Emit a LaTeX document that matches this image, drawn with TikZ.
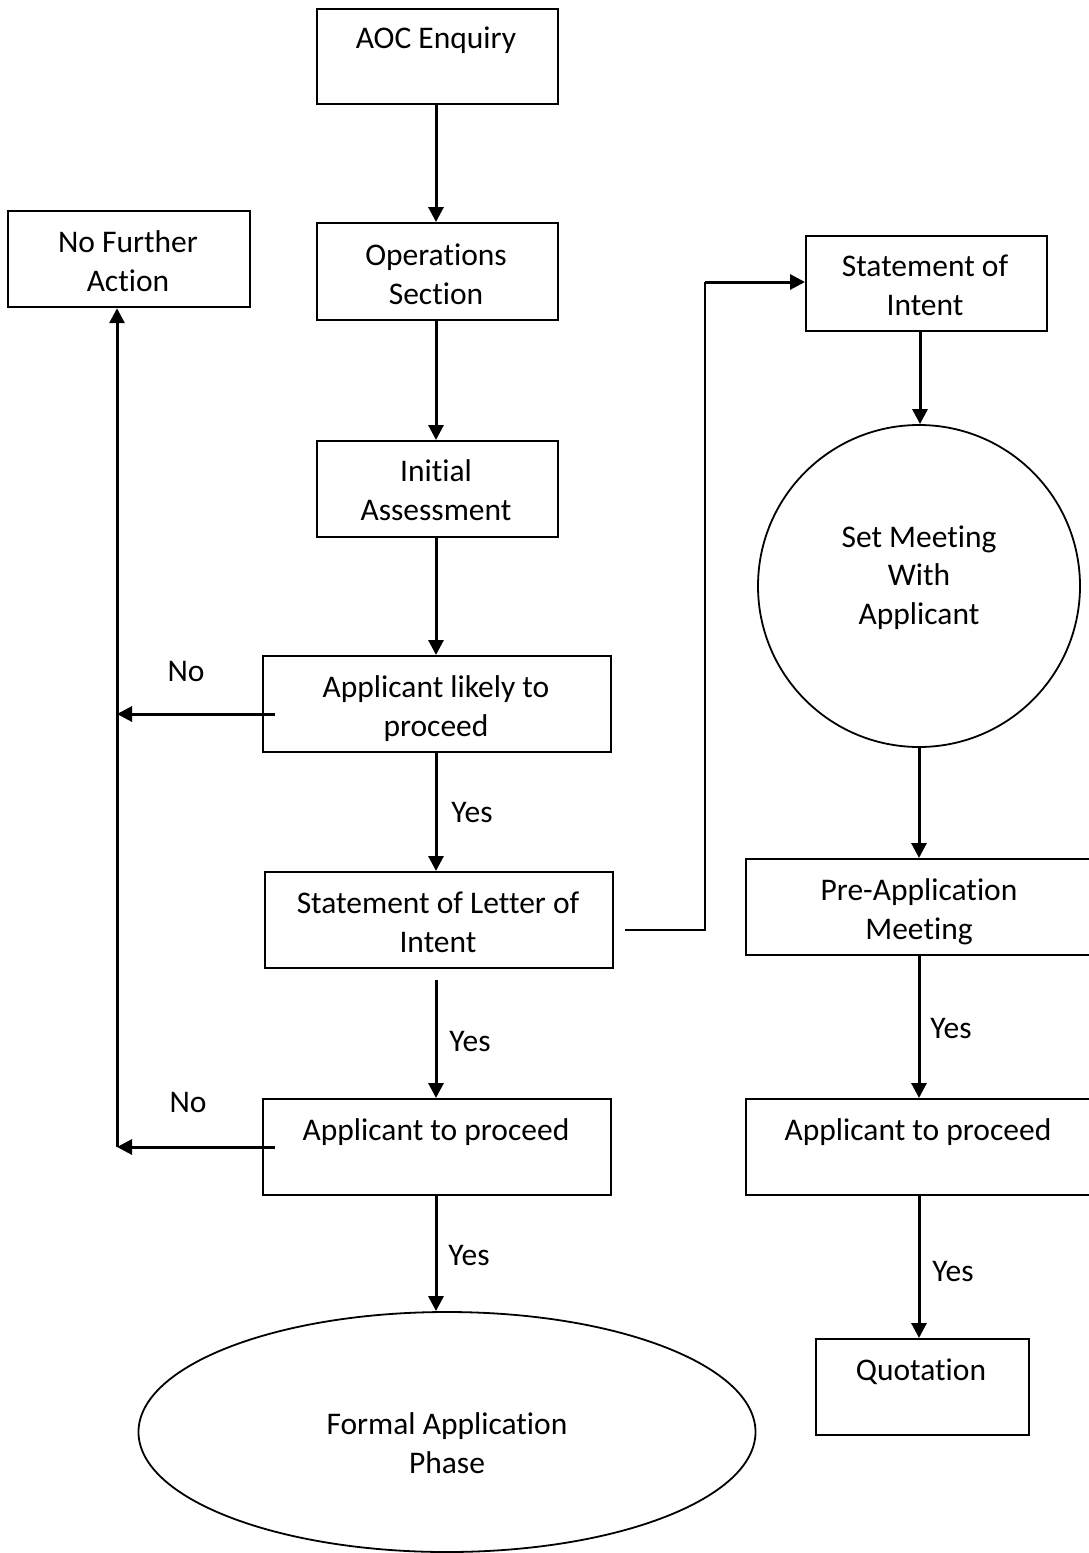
\documentclass[tikz,border=0pt]{standalone}
\usepackage{fontspec}
\setmainfont{Carlito}[Ligatures=CommonOff]
\usetikzlibrary{arrows.meta,shapes.geometric}

\begin{document}
\begin{tikzpicture}[x=1pt,y=-1pt,
  box/.style={draw, line width=2.2pt, rectangle, inner sep=0pt, anchor=north west},
  oval/.style={draw, line width=1.8pt, inner sep=0pt},
  lbl/.style={anchor=base, align=center, inner sep=0pt,
              font=\fontsize{31.5pt}{38.5pt}\selectfont},
  flow/.style={line width=3pt, -{Triangle[length=15pt,width=15pt]}},
  plain/.style={line width=2.5pt}]

\useasboundingbox (0,0) rectangle (1089,1553);

% boxes (top-left corner, size)
\node[box, minimum width=241pt, minimum height=95pt] (aoc) at (316,8) {};
\node[box, minimum width=241pt, minimum height=97pt] (ops) at (316,222) {};
\node[box, minimum width=242pt, minimum height=96pt] (nfa) at (7,210) {};
\node[box, minimum width=241pt, minimum height=96pt] (init) at (316,440) {};
\node[box, minimum width=348pt, minimum height=96pt] (likely) at (262,655) {};
\node[box, minimum width=348pt, minimum height=96pt] (letter) at (264,871) {};
\node[box, minimum width=348pt, minimum height=96pt] (procL) at (262,1098) {};
\node[box, minimum width=241pt, minimum height=95pt] (soi) at (805,235) {};
\node[box, minimum width=344pt, minimum height=96pt] (preapp) at (745,858) {};
\node[box, minimum width=344pt, minimum height=96pt] (procR) at (745,1098) {};
\node[box, minimum width=213pt, minimum height=96pt] (quote) at (815,1338) {};

\node[oval, circle, minimum size=322pt] (meet) at (919,586) {};
\node[oval, ellipse, minimum width=617pt, minimum height=240pt] (formal) at (447,1432) {};

% box texts (anchored on the baseline of the last line)
\node[lbl] (aoc-t) at (436,48) {AOC Enquiry};
\node[lbl] (ops-t) at (436,304) {Operations\\Section};
\node[lbl] (nfa-t) at (128,291) {No Further\\Action};
\node[lbl] (init-t) at (436,520) {Initial\\Assessment};
\node[lbl] (likely-t) at (436,736) {Applicant likely to\\proceed};
\node[lbl] (letter-t) at (438,952) {Statement of Letter of\\Intent};
\node[lbl] (procL-t) at (436,1140) {Applicant to proceed};
\node[lbl] (formal-t) at (447,1473) {Formal Application\\Phase};
\node[lbl] (soi-t) at (925,315) {Statement of\\Intent};
\node[lbl] (meet-t) at (919,624) {Set Meeting\\With\\Applicant};
\node[lbl] (preapp-t) at (919,939) {Pre-Application\\Meeting};
\node[lbl] (procR-t) at (918,1140) {Applicant to proceed};
\node[lbl] (quote-t) at (921,1380) {Quotation};

% connector labels
\node[lbl] (no1) at (186,681) {No};
\node[lbl] (no2) at (188,1112) {No};
\node[lbl] (yes1) at (472,822) {Yes};
\node[lbl] (yes2) at (470,1051) {Yes};
\node[lbl] (yes3) at (469,1265) {Yes};
\node[lbl] (yes4) at (951,1038) {Yes};
\node[lbl] (yes5) at (953,1281) {Yes};

% connector bend and end points
\coordinate (noA) at (275,714);
\coordinate (noB) at (275,1147);
\coordinate (railA) at (117,714);
\coordinate (railB) at (117,1147);
\coordinate (letterOut) at (625,930);
\coordinate (letterDown) at (436,980);
\coordinate (bendLow) at (705,930);
\coordinate (bendHigh) at (705,282);

% main column
\draw[flow] (aoc.south -| 436,0) -- (ops.north -| 436,0);
\draw[flow] (ops.south -| 436,0) -- (init.north -| 436,0);
\draw[flow] (init.south -| 436,0) -- (likely.north -| 436,0);
\draw[flow] (likely.south -| 436,0) -- (letter.north -| 436,0);
\draw[flow] (letterDown) -- (procL.north -| 436,0);
\draw[flow] (procL.south -| 436,0) -- (formal.north -| 436,0);

% "No" branches
\draw[flow] (noA) -- (railA);
\draw[flow] (noB) -- (railB);
\draw[flow] (railB) -- (railB |- nfa.south);

% branch to the statement of intent column
\draw[plain] (letterOut) -- (bendLow) -- (bendHigh);
\draw[flow] (bendHigh) -- (soi.west |- bendHigh);

% right column
\draw[flow] (soi.south -| 920,0) -- (meet.north -| 920,0);
\draw[flow] (meet.south -| 919,0) -- (preapp.north -| 919,0);
\draw[flow] (preapp.south -| 919,0) -- (procR.north -| 919,0);
\draw[flow] (procR.south -| 919,0) -- (quote.north -| 919,0);
\end{tikzpicture}
\end{document}
